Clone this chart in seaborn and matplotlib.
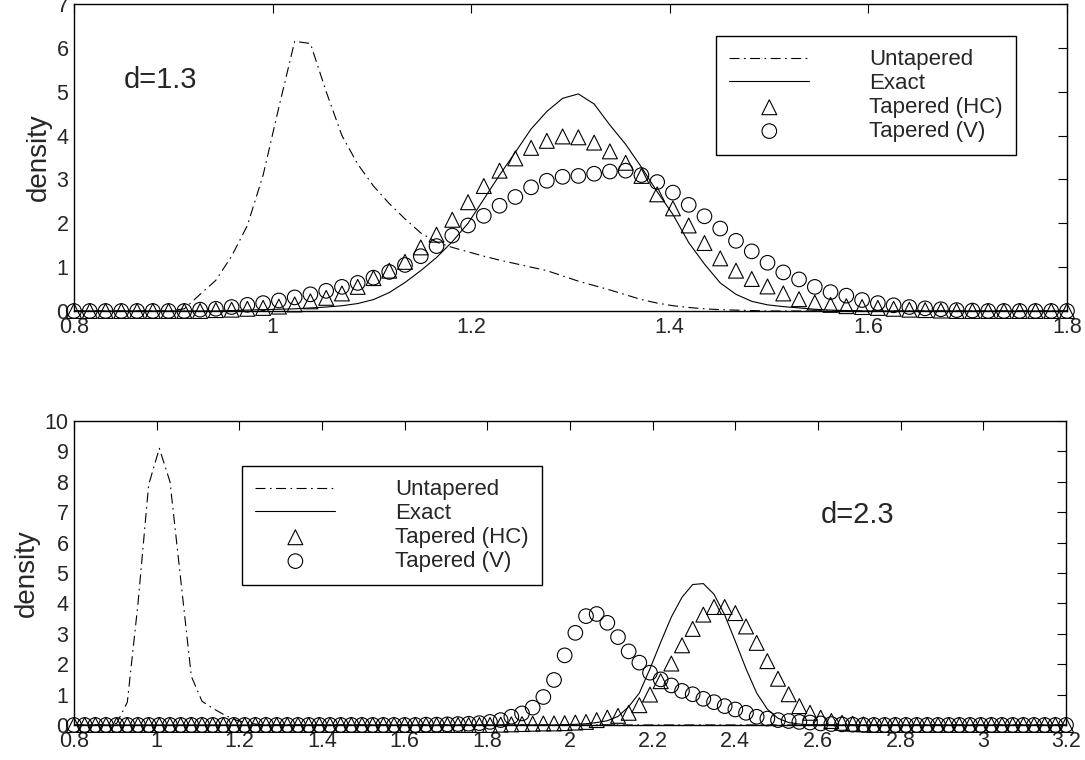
import matplotlib
matplotlib.use('Agg')
import matplotlib.pyplot as plt
import numpy as np
import seaborn as sns

sns.set_style('white')
plt.rcParams['font.family'] = ['Liberation Sans', 'DejaVu Sans']

# ---- data ----
# d = 1.3 panel, 64 grid points from 0.8 to 1.8
x_top = np.linspace(0.8, 1.8, 64)
untapered_top = [0.0] * 7 + [
    0.05, 0.38, 0.70, 1.25, 1.95, 3.10, 4.65, 6.15, 6.10, 5.00,
    4.00, 3.35, 2.85, 2.45, 2.10, 1.78, 1.57, 1.45, 1.35, 1.25,
    1.16, 1.08, 1.00, 0.92, 0.80, 0.68, 0.58, 0.48, 0.37, 0.26,
    0.18, 0.12, 0.08, 0.05, 0.03, 0.02, 0.01] + [0.0] * 20
exact_top = [0.0] * 10 + [
    0.01, 0.02, 0.03, 0.04, 0.05, 0.07, 0.09, 0.12, 0.17, 0.26,
    0.42, 0.65, 0.92, 1.22, 1.58, 2.00, 2.55, 3.10, 3.62, 4.15,
    4.55, 4.85, 4.95, 4.72, 4.24, 3.80, 3.28, 2.72, 2.20, 1.56,
    1.07, 0.64, 0.38, 0.22, 0.14, 0.10, 0.07, 0.04, 0.02, 0.01] + [0.0] * 14
hc_top = [0.0] * 9 + [
    0.02, 0.03, 0.05, 0.07, 0.10, 0.15, 0.22, 0.30, 0.40, 0.55,
    0.75, 0.92, 1.12, 1.45, 1.74, 2.08, 2.48, 2.85, 3.20, 3.48,
    3.72, 3.88, 3.98, 3.96, 3.84, 3.64, 3.38, 3.08, 2.66, 2.34,
    1.95, 1.55, 1.20, 0.92, 0.73, 0.56, 0.40, 0.27, 0.19, 0.14,
    0.11, 0.09, 0.07, 0.05, 0.03, 0.02, 0.01] + [0.0] * 8
v_top = [0.0] * 8 + [
    0.03, 0.05, 0.09, 0.14, 0.18, 0.24, 0.31, 0.38, 0.46, 0.55,
    0.64, 0.76, 0.89, 1.05, 1.25, 1.48, 1.72, 1.95, 2.17, 2.40,
    2.60, 2.82, 2.97, 3.06, 3.08, 3.13, 3.18, 3.20, 3.10, 2.94,
    2.70, 2.42, 2.16, 1.88, 1.60, 1.36, 1.10, 0.88, 0.72, 0.55,
    0.43, 0.35, 0.25, 0.18, 0.13, 0.09, 0.06, 0.04, 0.02, 0.01] + [0.0] * 6

# d = 2.3 panel, 94 grid points from 0.8 to 3.2
x_bot = np.linspace(0.8, 3.2, 94)
untapered_bot = [0.0] * 4 + [
    0.05, 0.75, 4.00, 7.90, 9.10, 8.00, 4.80, 1.60, 0.78, 0.55,
    0.35, 0.18, 0.08, 0.03] + [0.0] * 76
exact_bot = [0.0] * 46 + [
    0.01, 0.02, 0.04, 0.08, 0.14, 0.28, 0.60, 1.05, 1.85, 2.72,
    3.55, 4.20, 4.62, 4.65, 4.30, 3.62, 2.75, 1.85, 1.05, 0.52,
    0.22, 0.08, 0.03] + [0.0] * 25
hc_bot = [0.0] * 40 + [
    0.01, 0.02, 0.03, 0.04, 0.05, 0.05, 0.06, 0.08, 0.10, 0.16,
    0.24, 0.30, 0.40, 0.65, 1.00, 1.44, 2.02, 2.62, 3.16, 3.63,
    3.88, 3.88, 3.68, 3.24, 2.70, 2.10, 1.52, 1.01, 0.62, 0.40,
    0.24, 0.13, 0.07, 0.04, 0.02] + [0.0] * 19
v_bot = [0.0] * 33 + [
    0.01, 0.01, 0.02, 0.03, 0.04, 0.06, 0.10, 0.16, 0.27, 0.38,
    0.57, 0.92, 1.48, 2.29, 3.03, 3.58, 3.65, 3.36, 2.89, 2.42,
    2.05, 1.72, 1.50, 1.30, 1.12, 1.01, 0.86, 0.75, 0.62, 0.51,
    0.40, 0.27, 0.21, 0.16, 0.13, 0.10, 0.08, 0.05, 0.03, 0.02,
    0.01] + [0.0] * 20

labels = ['Untapered', 'Exact', 'Tapered (HC)', 'Tapered (V)']
top_xticks = [0.8, 1.0, 1.2, 1.4, 1.6, 1.8]
top_xticklabels = ['0.8', '1', '1.2', '1.4', '1.6', '1.8']
bot_xticks = [0.8, 1.0, 1.2, 1.4, 1.6, 1.8, 2.0, 2.2, 2.4, 2.6, 2.8, 3.0, 3.2]
bot_xticklabels = ['0.8', '1', '1.2', '1.4', '1.6', '1.8', '2', '2.2',
                   '2.4', '2.6', '2.8', '3', '3.2']

DASHDOT = (0, (9, 4, 1.5, 4))


def draw_panel(ax, x, untap, exact, hc, v, xlim, ylim, xticks, xticklabels,
               yticks, note, note_xy, legend_anchor):
    """draws one density panel in the old matlab look"""
    sns.lineplot(x=x, y=untap, ax=ax, color='black', lw=0.8,
                 linestyle=DASHDOT, label=labels[0])
    sns.lineplot(x=x, y=exact, ax=ax, color='black', lw=0.8,
                 label=labels[1])
    sns.scatterplot(x=x, y=hc, ax=ax, marker='^', s=115, color='black',
                    facecolor='none', edgecolor='black', linewidth=0.8,
                    clip_on=False, label=labels[2], zorder=3)
    sns.scatterplot(x=x, y=v, ax=ax, marker='o', s=110, color='black',
                    facecolor='none', edgecolor='black', linewidth=0.8,
                    clip_on=False, label=labels[3], zorder=3)

    ax.set_xlim(*xlim)
    ax.set_ylim(*ylim)
    ax.set_xticks(xticks)
    ax.set_xticklabels(xticklabels)
    ax.set_yticks(yticks)
    ax.set_yticklabels([str(t) for t in yticks])
    ax.tick_params(direction='in', top=True, right=True, length=6.5,
                   width=0.8, labelsize=15.5, pad=4, color='black')
    ax.set_xlabel('')
    ax.set_ylabel('density', fontsize=20, labelpad=3)
    for s in ax.spines.values():
        s.set_color('black')
        s.set_linewidth(1.0)
        s.set_visible(True)

    ax.text(note_xy[0], note_xy[1], note, fontsize=21, ha='left',
            va='baseline')

    leg = ax.legend(loc='upper left', bbox_to_anchor=legend_anchor,
                    borderaxespad=0, fontsize=16, handlelength=3.6,
                    handletextpad=2.7, labelspacing=0.13, borderpad=0.6,
                    fancybox=False, framealpha=1, edgecolor='black',
                    scatterpoints=1)
    leg.get_frame().set_linewidth(1.0)


def main():
    fig = plt.figure(figsize=(10.85, 7.6), dpi=100)
    fig.patch.set_facecolor('white')
    ax1 = fig.add_axes([0.0682, 0.5908, 0.9152, 0.4039])
    ax2 = fig.add_axes([0.0682, 0.0461, 0.9143, 0.4000])

    draw_panel(ax1, x_top, untapered_top, exact_top, hc_top, v_top,
               (0.8, 1.8), (0, 7), top_xticks, top_xticklabels,
               list(range(0, 8)), 'd=1.3', (0.85, 5.08), (0.6465, 0.896))
    draw_panel(ax2, x_bot, untapered_bot, exact_bot, hc_bot, v_bot,
               (0.8, 3.2), (0, 10), bot_xticks, bot_xticklabels,
               list(range(0, 11)), 'd=2.3', (2.607, 6.64), (0.1694, 0.852))

    fig.savefig('out.png', dpi=100)


if __name__ == '__main__':
    main()
